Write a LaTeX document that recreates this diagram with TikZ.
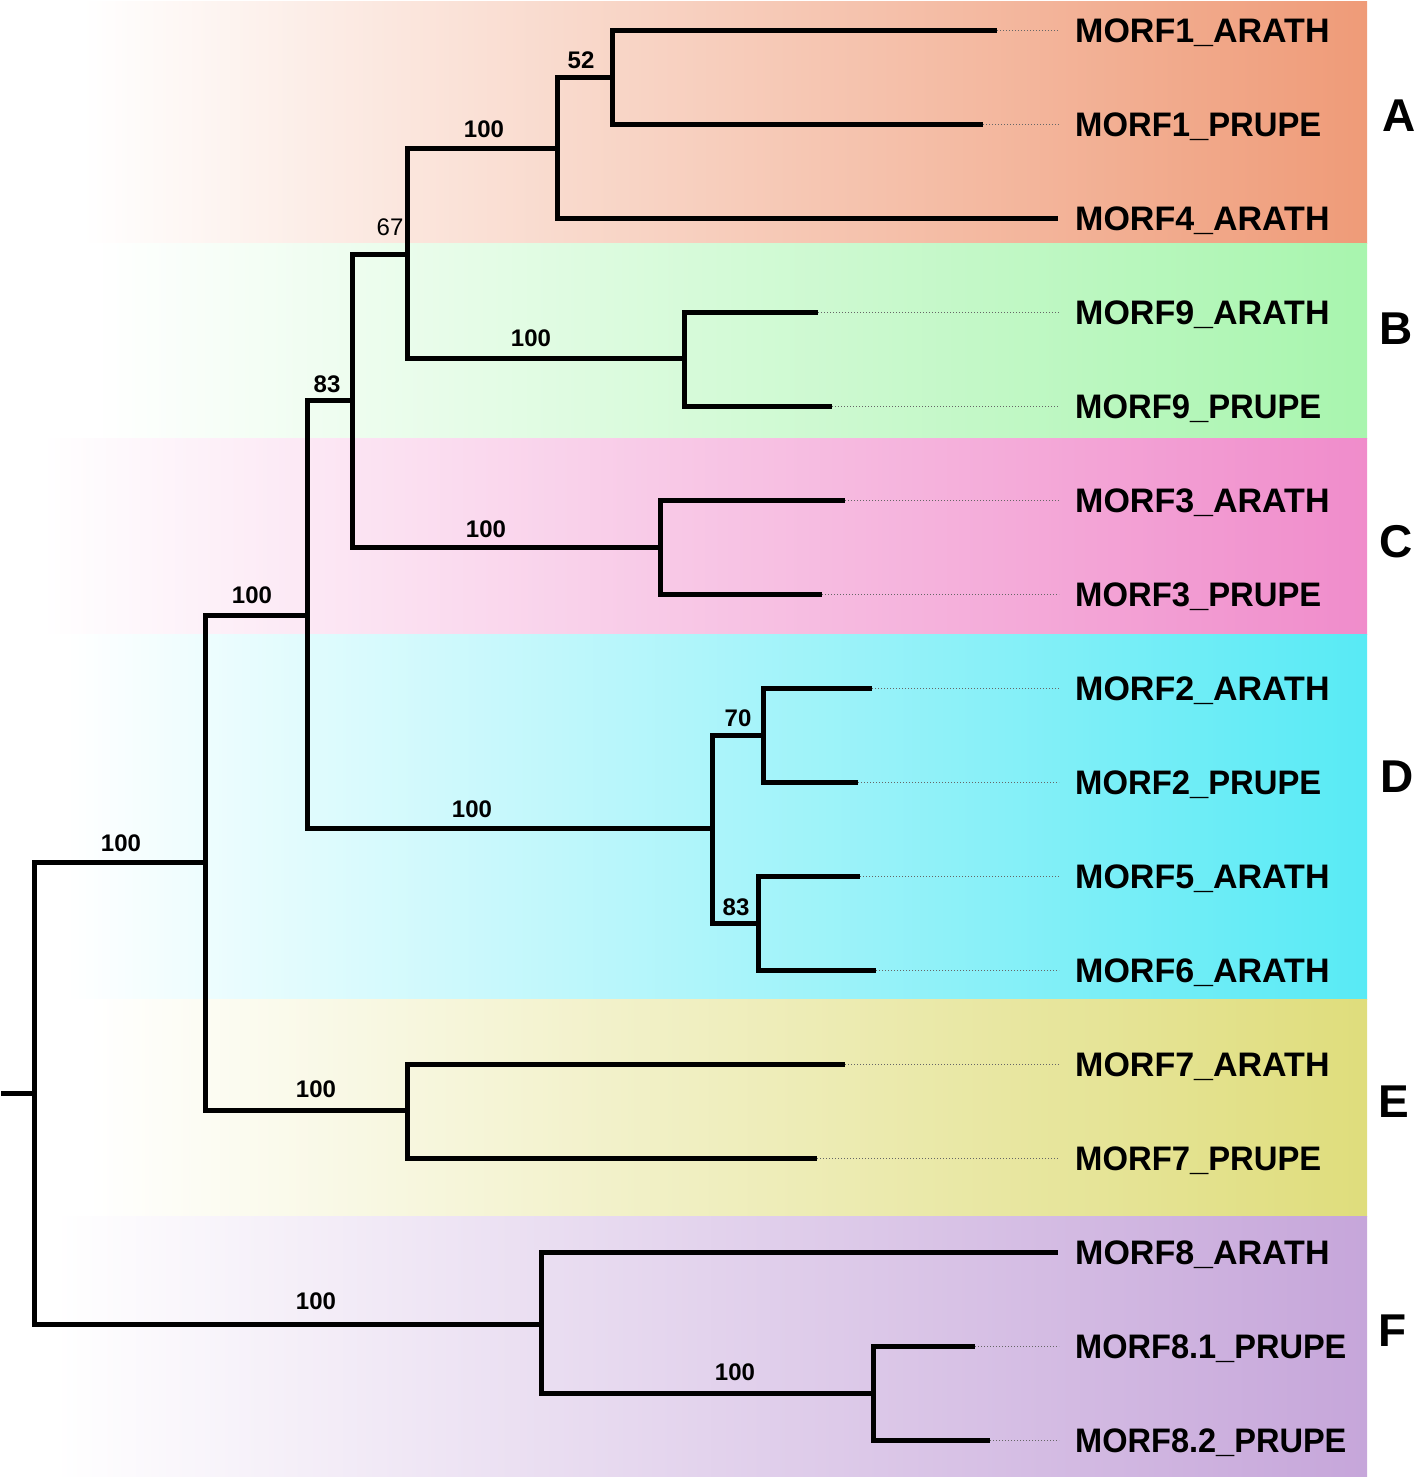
\documentclass[tikz,border=0pt]{standalone}
\usepackage{fontspec}
\setmainfont{Liberation Sans}
\definecolor{cA}{HTML}{EF9B78}
\definecolor{cB}{HTML}{A8F5AE}
\definecolor{cC}{HTML}{F08CCB}
\definecolor{cD}{HTML}{58EAF5}
\definecolor{cE}{HTML}{DFDD7C}
\definecolor{cF}{HTML}{C6A6DA}
\pgfdeclarehorizontalshading{shA}{100bp}{color(0bp)=(white); color(28bp)=(white); color(75bp)=(cA); color(100bp)=(cA)}
\pgfdeclarehorizontalshading{shB}{100bp}{color(0bp)=(white); color(27bp)=(white); color(75bp)=(cB); color(100bp)=(cB)}
\pgfdeclarehorizontalshading{shC}{100bp}{color(0bp)=(white); color(26bp)=(white); color(75bp)=(cC); color(100bp)=(cC)}
\pgfdeclarehorizontalshading{shD}{100bp}{color(0bp)=(white); color(26bp)=(white); color(75bp)=(cD); color(100bp)=(cD)}
\pgfdeclarehorizontalshading{shE}{100bp}{color(0bp)=(white); color(27bp)=(white); color(75bp)=(cE); color(100bp)=(cE)}
\pgfdeclarehorizontalshading{shF}{100bp}{color(0bp)=(white); color(27bp)=(white); color(75bp)=(cF); color(100bp)=(cF)}
\newcommand{\narrowtxt}[1]{\scalebox{0.965}[1]{#1}}
\tikzset{
  br/.style={line width=5pt, line join=miter, black},
  dotline/.style={line width=1pt, gray!80!black, dash pattern=on 1pt off 2pt, shorten >=16pt},
  leaf/.style={anchor=west, inner sep=0pt, text height=24pt, text depth=0pt, font=\fontsize{34}{40}\selectfont\bfseries},
  boot/.style={anchor=base, inner sep=0pt, font=\fontsize{24}{28}\selectfont\bfseries},
  bootr/.style={anchor=base, inner sep=0pt, font=\fontsize{24}{28}\selectfont},
  grp/.style={anchor=center, inner sep=0pt, text height=33pt, text depth=0pt, font=\fontsize{46}{52}\selectfont\bfseries}
}
\begin{document}
\begin{tikzpicture}[x=1pt,y=-1pt]
\useasboundingbox (0,0) rectangle (1416,1478);
% bands
\shade[shading=shA] (0,1) rectangle (1367,243);
\shade[shading=shB] (42,243) rectangle (1367,438);
\shade[shading=shC] (15,438) rectangle (1367,634);
\shade[shading=shD] (40,634) rectangle (1367,999);
\shade[shading=shE] (35,999) rectangle (1367,1216);
\shade[shading=shF] (0,1216) rectangle (1367,1476);
% internal nodes
\coordinate (root) at (1,1093);
\coordinate (n0) at (34,1093);
\coordinate (n1) at (205,862);
\coordinate (nF) at (541,1324);
\coordinate (n2) at (307,615);
\coordinate (nE) at (407,1110);
\coordinate (n3) at (352,400);
\coordinate (nD) at (712,828);
\coordinate (n4) at (407,254);
\coordinate (nC) at (660,547);
\coordinate (n5) at (557,148);
\coordinate (nB) at (684,358);
\coordinate (n6) at (612,77);
\coordinate (nD1) at (763,735);
\coordinate (nD2) at (758,923);
\coordinate (nF2) at (873,1393);
% leaf tips
\coordinate (t1) at (997,30);
\coordinate (t2) at (983,124);
\coordinate (t3) at (1058,218);
\coordinate (t4) at (818,312);
\coordinate (t5) at (832,406);
\coordinate (t6) at (845,500);
\coordinate (t7) at (822,594);
\coordinate (t8) at (872,688);
\coordinate (t9) at (858,782);
\coordinate (t10) at (860,876);
\coordinate (t11) at (876,970);
\coordinate (t12) at (845,1064);
\coordinate (t13) at (817,1158);
\coordinate (t14) at (1058,1252);
\coordinate (t15) at (975,1346);
\coordinate (t16) at (990,1440);
% leaf labels
\node[leaf] (l1) at (1075,30) {MORF1\_ARATH};
\node[leaf] (l2) at (1075,124) {\narrowtxt{MORF1\_PRUPE}};
\node[leaf] (l3) at (1075,218) {MORF4\_ARATH};
\node[leaf] (l4) at (1075,312) {MORF9\_ARATH};
\node[leaf] (l5) at (1075,406) {\narrowtxt{MORF9\_PRUPE}};
\node[leaf] (l6) at (1075,500) {MORF3\_ARATH};
\node[leaf] (l7) at (1075,594) {\narrowtxt{MORF3\_PRUPE}};
\node[leaf] (l8) at (1075,688) {MORF2\_ARATH};
\node[leaf] (l9) at (1075,782) {\narrowtxt{MORF2\_PRUPE}};
\node[leaf] (l10) at (1075,876) {MORF5\_ARATH};
\node[leaf] (l11) at (1075,970) {MORF6\_ARATH};
\node[leaf] (l12) at (1075,1064) {MORF7\_ARATH};
\node[leaf] (l13) at (1075,1158) {\narrowtxt{MORF7\_PRUPE}};
\node[leaf] (l14) at (1075,1252) {MORF8\_ARATH};
\node[leaf] (l15) at (1075,1346) {\scalebox{0.957}[1]{MORF8.1\_PRUPE}};
\node[leaf] (l16) at (1075,1440) {\scalebox{0.957}[1]{MORF8.2\_PRUPE}};
% group letters
\node[grp] (gA) at (1399,115) {A};
\node[grp] (gB) at (1396,328) {B};
\node[grp] (gC) at (1396,541) {C};
\node[grp] (gD) at (1397,776) {D};
\node[grp] (gE) at (1394,1101) {E};
\node[grp] (gF) at (1393,1330) {F};
% dotted leaders
\foreach \i in {1,2,4,5,6,7,8,9,10,11,12,13,15,16}
  \draw[dotline] (t\i) -- (l\i.west);
% branches
\draw[br] (root) -- (n0);
\draw[br] (n0) |- (n1);
\draw[br] (n0) |- (nF);
\draw[br] (n1) |- (n2);
\draw[br] (n1) |- (nE);
\draw[br] (n2) |- (n3);
\draw[br] (n2) |- (nD);
\draw[br] (n3) |- (n4);
\draw[br] (n3) |- (nC);
\draw[br] (n4) |- (n5);
\draw[br] (n4) |- (nB);
\draw[br] (n5) |- (n6);
\draw[br] (n5) |- (t3);
\draw[br] (n6) |- (t1);
\draw[br] (n6) |- (t2);
\draw[br] (nB) |- (t4);
\draw[br] (nB) |- (t5);
\draw[br] (nC) |- (t6);
\draw[br] (nC) |- (t7);
\draw[br] (nD) |- (nD1);
\draw[br] (nD) |- (nD2);
\draw[br] (nD1) |- (t8);
\draw[br] (nD1) |- (t9);
\draw[br] (nD2) |- (t10);
\draw[br] (nD2) |- (t11);
\draw[br] (nE) |- (t12);
\draw[br] (nE) |- (t13);
\draw[br] (nF) |- (t14);
\draw[br] (nF) |- (nF2);
\draw[br] (nF2) |- (t15);
\draw[br] (nF2) |- (t16);
% bootstrap values
\node[boot] (b1) at (121,851) {100};
\node[boot] (b2) at (252,603) {100};
\node[boot] (b3) at (327,392) {83};
\node[bootr] (b4) at (390,235) {67};
\node[boot] (b5) at (484,137) {100};
\node[boot] (b6) at (581,68) {52};
\node[boot] (b7) at (531,346) {100};
\node[boot] (b8) at (486,537) {100};
\node[boot] (b9) at (472,817) {100};
\node[boot] (b10) at (738,726) {70};
\node[boot] (b11) at (736,915) {83};
\node[boot] (b12) at (316,1097) {100};
\node[boot] (b13) at (316,1309) {100};
\node[boot] (b14) at (735,1380) {100};
\end{tikzpicture}
\end{document}
